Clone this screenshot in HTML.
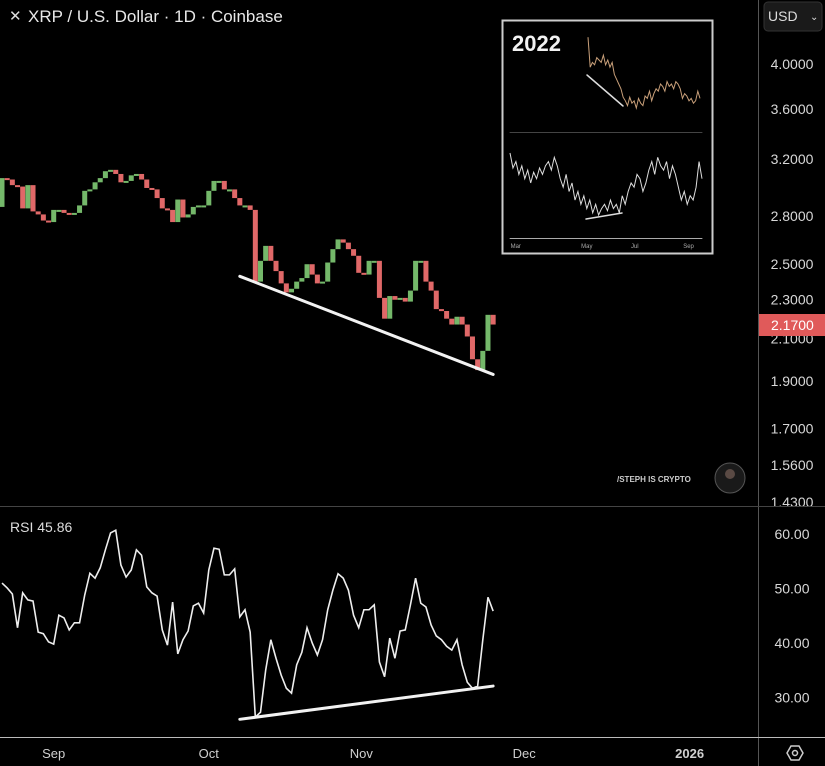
<!DOCTYPE html>
<html><head><meta charset="utf-8"><style>
html,body{margin:0;padding:0;background:#000;width:825px;height:766px;overflow:hidden}
svg{display:block}
text{font-family:"Liberation Sans",sans-serif}
</style></head><body>
<svg id="chart" width="825" height="766" viewBox="0 0 825 766" xmlns="http://www.w3.org/2000/svg">
<rect width="825" height="766" fill="#000"/>
<g id="candles"></g>
<g id="rsi"></g>
<g id="yaxis"></g>
<g id="rsiaxis"></g>
<g id="xaxis"></g>
<line x1="758.5" y1="0" x2="758.5" y2="766" stroke="#555" stroke-width="1"/>
<line x1="0" y1="506.5" x2="825" y2="506.5" stroke="#444" stroke-width="1"/>
<line x1="0" y1="737.5" x2="825" y2="737.5" stroke="#bbb" stroke-width="1"/>
<g>
<text x="9" y="21" fill="#ddd" font-size="15">✕</text>
<text x="28" y="22" fill="#e8e8e8" font-size="17">XRP / U.S. Dollar · 1D · Coinbase</text>
</g>
<g>
<rect x="764" y="2" width="58" height="29" rx="4" fill="#1a1a1a" stroke="#333"/>
<text x="768" y="21" fill="#ddd" font-size="14">USD</text>
<text x="810" y="20" fill="#ddd" font-size="10">⌄</text>
</g>
<rect x="759" y="314" width="66" height="22" fill="#e05a5a"/>
<text x="771" y="330" fill="#fff" font-size="14">2.1700</text>
<text x="10" y="532" fill="#ddd" font-size="14">RSI  45.86</text>
<g>
<text x="617" y="482" fill="#ccc" font-size="8" font-weight="bold">/STEPH IS CRYPTO</text>
<circle cx="730" cy="478" r="15" fill="#1a1a1a" stroke="#555"/>
<circle cx="730" cy="474" r="5" fill="#5a4a44"/>
</g>
<g id="inset"></g>
<g>
<polygon points="787,753 791,746 799,746 803,753 799,760 791,760" fill="none" stroke="#ccc" stroke-width="1.5"/>
<circle cx="795" cy="753" r="2.5" fill="none" stroke="#ccc" stroke-width="1.5"/>
</g>
</svg>
<script>
const NS="http://www.w3.org/2000/svg";
const closes=[3.06,3.05,3.01,3.00,2.85,3.01,2.83,2.81,2.77,2.76,2.84,2.84,2.82,2.81,2.82,2.87,2.97,2.98,3.03,3.06,3.11,3.12,3.09,3.03,3.04,3.08,3.09,3.05,2.99,2.98,2.92,2.85,2.84,2.76,2.91,2.79,2.81,2.86,2.87,2.87,2.97,3.04,3.04,2.98,2.98,2.92,2.87,2.87,2.84,2.40,2.52,2.61,2.52,2.46,2.39,2.34,2.36,2.40,2.42,2.50,2.44,2.39,2.40,2.51,2.59,2.65,2.63,2.59,2.55,2.45,2.44,2.52,2.52,2.31,2.20,2.32,2.30,2.31,2.29,2.35,2.52,2.52,2.40,2.35,2.25,2.24,2.20,2.17,2.21,2.17,2.11,2.00,1.95,2.04,2.22,2.17];
const firstOpen=2.86;
const rsiValues=[51.0,50.1,49.0,42.8,49.2,47.9,47.7,42.0,41.7,40.2,39.8,45.1,44.6,42.4,43.7,43.7,48.8,52.8,51.9,53.8,57.1,60.2,60.7,54.3,52.1,53.4,57.1,56.1,50.3,49.2,48.6,42.4,39.6,47.5,38.0,40.6,42.2,46.8,47.3,45.5,53.4,57.4,57.2,52.5,52.5,53.6,44.8,46.1,42.0,26.4,27.3,35.0,40.6,37.2,34.1,31.7,30.8,36.0,38.3,42.8,40.0,37.8,40.6,46.1,49.7,52.7,51.9,49.7,45.1,42.8,46.1,46.1,47.0,36.5,33.8,40.9,37.2,42.2,42.4,47.0,51.9,47.3,46.6,43.3,41.3,40.6,39.4,38.7,40.6,36.0,32.8,31.7,32.1,40.6,48.4,45.86];
const priceTicks=[4.0,3.6,3.2,2.8,2.5,2.3,2.1,1.9,1.7,1.56,1.43];
const rsiTicks=[60,50,40,30];
const monthLabels=["Sep","Oct","Nov","Dec","2026"];
const monthDayIdx=[10,40,69.5,101,133];
const priceTrend=[[46,2.43],[95,1.93]];
const rsiTrend=[[46,26.0],[95,32.1]];
const insetPrice=[0.95,0.70,0.74,0.72,0.78,0.76,0.74,0.80,0.72,0.76,0.70,0.74,0.64,0.60,0.56,0.52,0.45,0.42,0.38,0.45,0.40,0.42,0.36,0.44,0.40,0.38,0.46,0.44,0.50,0.42,0.48,0.52,0.50,0.56,0.54,0.50,0.58,0.54,0.56,0.52,0.58,0.56,0.52,0.44,0.48,0.46,0.42,0.44,0.40,0.42,0.50,0.44];
const insetRsi=[62,55,58,52,56,50,54,48,53,50,55,52,56,58,54,60,56,50,46,52,44,48,40,44,38,42,36,40,34,38,33,36,38,35,40,36,38,34,42,38,44,48,46,52,50,44,48,54,58,52,60,56,54,58,50,56,52,46,40,44,38,42,40,46,58,50];
const insetMonths=["Mar","May","Jul","Sep"];
const insetMonthX=[0.03,0.4,0.65,0.93];

const X0=2, DX=5.17;
const xOf=i=>X0+i*DX;
const yP=p=>64+426*Math.log(4/p);
const yR=r=>534+(60-r)*5.45;

const cg=document.getElementById('candles');
for(let i=0;i<closes.length;i++){
  const o=i===0?firstOpen:closes[i-1], c=closes[i];
  const up=c>=o;
  const r=document.createElementNS(NS,'rect');
  
  
  const y1=yP(Math.max(o,c)), y2=yP(Math.min(o,c));
  r.setAttribute('x',xOf(i)-2.5);r.setAttribute('y',y1);
  r.setAttribute('width',5);r.setAttribute('height',Math.max(2,y2-y1));
  r.setAttribute('fill',up?'#74b86a':'#e06868');
  cg.appendChild(r);
}
function line(g,x1,y1,x2,y2,stroke,w,name){
  const l=document.createElementNS(NS,'line');
  
  
  l.setAttribute('x1',x1);l.setAttribute('y1',y1);l.setAttribute('x2',x2);l.setAttribute('y2',y2);
  l.setAttribute('stroke',stroke);l.setAttribute('stroke-width',w);l.setAttribute('stroke-linecap','round');
  g.appendChild(l);
}
line(cg,xOf(priceTrend[0][0]),yP(priceTrend[0][1]),xOf(priceTrend[1][0]),yP(priceTrend[1][1]),'#f2f2f2',3,'price-trendline');

const rg=document.getElementById('rsi');
const rp=document.createElementNS(NS,'polyline');


rp.setAttribute('points',rsiValues.map((v,i)=>xOf(i)+','+yR(v)).join(' '));
rp.setAttribute('fill','none');rp.setAttribute('stroke','#eee');rp.setAttribute('stroke-width',1.6);
rg.appendChild(rp);
line(rg,xOf(rsiTrend[0][0]),yR(rsiTrend[0][1]),xOf(rsiTrend[1][0]),yR(rsiTrend[1][1]),'#f2f2f2',3,'rsi-trendline');

function txt(g,x,y,s,size,fill,name,weight){
  const t=document.createElementNS(NS,'text');
  
  
  t.setAttribute('x',x);t.setAttribute('y',y);t.setAttribute('font-size',size);t.setAttribute('fill',fill);
  if(weight)t.setAttribute('font-weight',weight);
  t.setAttribute('text-anchor','middle');
  t.textContent=s;g.appendChild(t);
}
const ya=document.getElementById('yaxis');
priceTicks.forEach(p=>txt(ya,792,yP(p)+5,p.toFixed(4),14,'#d8d8d8','price-tick-label'));
const ra=document.getElementById('rsiaxis');
rsiTicks.forEach(r=>txt(ra,792,yR(r)+5,r.toFixed(2),14,'#d8d8d8','rsi-tick-label'));
const xa=document.getElementById('xaxis');
monthLabels.forEach((m,k)=>txt(xa,xOf(monthDayIdx[k]),758,m,13,'#d0d0d0','month-label',m==='2026'?'bold':null));

const ig=document.getElementById('inset');
const box=document.createElementNS(NS,'rect');


box.setAttribute('x',502.5);box.setAttribute('y',20.5);box.setAttribute('width',210);box.setAttribute('height',233);
box.setAttribute('fill','#000');box.setAttribute('stroke','#ccc');box.setAttribute('stroke-width',2);
ig.appendChild(box);
const tt=document.createElementNS(NS,'text');


tt.setAttribute('x',512);tt.setAttribute('y',51);tt.setAttribute('font-size',22);tt.setAttribute('font-weight','bold');tt.setAttribute('fill','#f2f2f2');
tt.textContent='2022';ig.appendChild(tt);
const ipx=i=>588+i*(112/(insetPrice.length-1));
const ipy=v=>108-(v-0.36)*(72/0.6);
const ip=document.createElementNS(NS,'polyline');


ip.setAttribute('points',insetPrice.map((v,i)=>ipx(i)+','+ipy(v)).join(' '));
ip.setAttribute('fill','none');ip.setAttribute('stroke','#c9a07a');ip.setAttribute('stroke-width',1);
ig.appendChild(ip);
line(ig,587,75,623,106,'#ddd',1.5,'inset-price-trendline');
line(ig,510,132.5,702,132.5,'#444',1,'inset-separator');
const irx=i=>510+i*(192/(insetRsi.length-1));
const iry=v=>215-(v-33)*(62/29);
const ir=document.createElementNS(NS,'polyline');


ir.setAttribute('points',insetRsi.map((v,i)=>irx(i)+','+iry(v)).join(' '));
ir.setAttribute('fill','none');ir.setAttribute('stroke','#ddd');ir.setAttribute('stroke-width',1);
ig.appendChild(ir);
line(ig,586,219,622,213,'#ddd',1.5,'inset-rsi-trendline');
line(ig,510,238.5,702,238.5,'#aaa',1,'inset-time-axis');
insetMonths.forEach((m,k)=>txt(ig,510+insetMonthX[k]*192,248,m,6,'#aaa','inset-month-label'));
</script>
</body></html>
